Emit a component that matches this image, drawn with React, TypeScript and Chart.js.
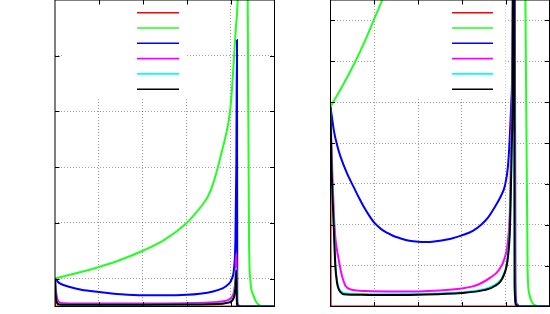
import React, { useEffect, useRef } from "react";
import { Chart, registerables } from "chart.js";

Chart.register(...registerables);

// ---------- data ----------
const SERIES_COLORS = ["#ff0000", "#22ff22", "#0000ff", "#ff00ff", "#00ffff", "#000000"];
const SERIES_NAMES = ["", "", "", "", "", ""];

const X_MIN = 0;
const X_MAX = 5;
const X_TICKS = [1, 2, 3, 4];

const LEFT_Y_MIN = 0;
const LEFT_Y_MAX = 5.5;
const LEFT_Y_TICKS = [0.5, 1.5, 2.5, 3.5, 4.5];

const RIGHT_Y_MIN = 0;
const RIGHT_Y_MAX = 7.5;
const RIGHT_Y_TICKS = [1, 2, 3, 4, 5, 6, 7];

// left panel
const L_RED_X = [0, 0.004, 5];
const L_RED_Y = [0.5, 0, 0];

const L_GREEN_X = [0, 0.5, 1, 1.5, 2, 2.5, 3, 3.2, 3.4, 3.5, 3.6, 3.71, 3.8, 3.9, 3.96, 4.0, 4.04, 4.08, 4.12, 4.16, 4.22, 4.3, 4.36, 4.39, 4.42, 4.45, 4.52, 4.61, 4.77, 5];
const L_GREEN_Y = [0.5, 0.6, 0.71, 0.84, 1.0, 1.2, 1.5, 1.67, 1.87, 2.0, 2.2, 2.5, 2.78, 3.1, 3.35, 3.6, 4.0, 4.5, 5.0, 5.5, 8, 12, 8, 5.5, 1.19, 0.47, 0.2, 0.05, 0, 0];

const L_BLUE_X = [0, 0.1, 0.34, 0.6, 1, 1.5, 2, 2.5, 3, 3.3, 3.6, 3.8, 3.95, 4.03, 4.08, 4.11, 4.13, 4.145, 4.152, 4.17, 4.3, 5];
const L_BLUE_Y = [0.5, 0.42, 0.35, 0.3, 0.26, 0.22, 0.2, 0.2, 0.21, 0.23, 0.27, 0.32, 0.4, 0.5, 0.7, 1.2, 2.5, 4.78, 0.1, 0.02, 0, 0];

const L_MAGENTA_X = [0, 0.02, 0.04, 0.07, 0.12, 0.2, 0.5, 1, 2, 3, 3.5, 3.8, 3.95, 4.03, 4.08, 4.11, 4.13, 4.145, 4.16, 4.3, 5];
const L_MAGENTA_Y = [0.5, 0.3, 0.18, 0.1, 0.07, 0.06, 0.055, 0.055, 0.055, 0.06, 0.07, 0.09, 0.12, 0.17, 0.28, 0.5, 0.95, 0.1, 0.02, 0, 0];

const L_CYAN_X = [0, 0.01, 0.025, 0.05, 0.1, 0.2, 1, 2, 3, 3.5, 3.8, 3.95, 4.03, 4.08, 4.11, 4.13, 4.145, 4.16, 4.3, 5];
const L_CYAN_Y = [0.5, 0.31, 0.15, 0.065, 0.04, 0.033, 0.033, 0.033, 0.038, 0.043, 0.053, 0.075, 0.11, 0.19, 0.37, 0.68, 0.05, 0.01, 0, 0];

const L_BLACK_X = [0, 0.01, 0.025, 0.05, 0.1, 0.2, 1, 2, 3, 3.5, 3.8, 3.95, 4.03, 4.08, 4.11, 4.13, 4.145, 4.16, 4.3, 5];
const L_BLACK_Y = [0.5, 0.3, 0.14, 0.06, 0.035, 0.03, 0.03, 0.03, 0.035, 0.04, 0.05, 0.07, 0.1, 0.18, 0.35, 0.65, 0.05, 0.01, 0, 0];

// right panel
const R_RED_X = [0, 0.004, 5];
const R_RED_Y = [4.88, 0, 0];

const R_GREEN_X = [0, 0.3, 0.57, 0.8, 0.985, 1.21, 1.5, 2.5, 3.5, 4.3, 4.45, 4.5, 4.54, 4.6, 4.7, 4.8, 5];
const R_GREEN_Y = [4.88, 5.45, 6.0, 6.53, 7.0, 7.57, 8.3, 12, 20, 12, 7.5, 0.9, 0.3, 0.1, 0.02, 0, 0];

const R_BLUE_X = [0, 0.04, 0.076, 0.15, 0.23, 0.38, 0.53, 0.65, 0.75, 0.88, 1.0, 1.15, 1.3, 1.45, 1.59, 1.8, 2.0, 2.2, 2.5, 2.75, 3.0, 3.25, 3.44, 3.6, 3.75, 3.88, 3.98, 4.05, 4.09, 4.13, 4.16, 4.185, 4.21, 4.22, 4.23, 4.26, 4.35, 5];
const R_BLUE_Y = [4.88, 4.58, 4.31, 3.95, 3.66, 3.25, 2.92, 2.66, 2.46, 2.23, 2.05, 1.9, 1.8, 1.72, 1.67, 1.61, 1.585, 1.58, 1.61, 1.66, 1.74, 1.85, 2.0, 2.18, 2.43, 2.68, 2.95, 3.41, 4.07, 5.05, 7.5, 30, 7.5, 1.0, 0.2, 0.05, 0, 0];

const R_MAGENTA_X = [0, 0.02, 0.05, 0.08, 0.11, 0.15, 0.19, 0.23, 0.27, 0.34, 0.49, 0.8, 1.5, 2, 2.5, 3, 3.2, 3.4, 3.64, 3.85, 3.98, 4.05, 4.1, 4.14, 4.165, 4.18, 4.2, 4.21, 4.24, 4.3, 5];
const R_MAGENTA_Y = [4.88, 4.0, 3.0, 2.2, 1.7, 1.37, 1.13, 0.9, 0.72, 0.51, 0.41, 0.38, 0.37, 0.37, 0.39, 0.44, 0.48, 0.55, 0.7, 0.9, 1.2, 1.6, 2.5, 5, 7.5, 30, 7.5, 0.5, 0.05, 0, 0];

const R_CYAN_X = [0, 0.02, 0.05, 0.08, 0.11, 0.15, 0.19, 0.23, 0.3, 0.5, 1, 2, 3, 3.5, 3.75, 3.95, 4.05, 4.1, 4.14, 4.165, 4.18, 4.195, 4.205, 4.23, 4.3, 5];
const R_CYAN_Y = [4.88, 3.7, 2.7, 1.9, 1.1, 0.62, 0.45, 0.38, 0.33, 0.31, 0.3, 0.31, 0.35, 0.42, 0.53, 0.78, 1.25, 2.1, 4.2, 7.5, 30, 7.5, 0.5, 0.05, 0, 0];

const R_BLACK_X = [0, 0.02, 0.05, 0.08, 0.11, 0.15, 0.19, 0.23, 0.3, 0.5, 1, 2, 3, 3.5, 3.75, 3.95, 4.05, 4.1, 4.14, 4.165, 4.18, 4.195, 4.205, 4.23, 4.3, 5];
const R_BLACK_Y = [4.88, 3.6, 2.6, 1.8, 1.0, 0.58, 0.42, 0.35, 0.3, 0.29, 0.28, 0.29, 0.33, 0.4, 0.5, 0.75, 1.2, 2.0, 4.0, 7.5, 30, 7.5, 0.5, 0.05, 0, 0];

const LEFT_SERIES = [
  [L_RED_X, L_RED_Y],
  [L_GREEN_X, L_GREEN_Y],
  [L_BLUE_X, L_BLUE_Y],
  [L_MAGENTA_X, L_MAGENTA_Y],
  [L_CYAN_X, L_CYAN_Y],
  [L_BLACK_X, L_BLACK_Y],
];
const RIGHT_SERIES = [
  [R_RED_X, R_RED_Y],
  [R_GREEN_X, R_GREEN_Y],
  [R_BLUE_X, R_BLUE_Y],
  [R_MAGENTA_X, R_MAGENTA_Y],
  [R_CYAN_X, R_CYAN_Y],
  [R_BLACK_X, R_BLACK_Y],
];

// ---------- plugin: gnuplot-like frame, inward ticks, opaque key ----------
const gnuplotFrame = {
  id: "gnuplotFrame",
  beforeDatasetsDraw(chart: any, _a: any, opts: any) {
    const { ctx, chartArea: a } = chart;
    const k = opts.key;
    ctx.save();
    ctx.fillStyle = "#ffffff";
    ctx.fillRect(a.left + k.boxLeft, a.top, k.boxRight - k.boxLeft, k.boxBottom);
    ctx.restore();
  },
  afterDatasetsDraw(chart: any, _a: any, opts: any) {
    const { ctx, chartArea: a } = chart;
    const k = opts.key;
    ctx.save();
    ctx.lineWidth = 1.6;
    chart.data.datasets.forEach((ds: any, i: number) => {
      const y = a.top + k.firstY + i * k.stepY;
      ctx.strokeStyle = ds.borderColor;
      ctx.beginPath();
      ctx.moveTo(a.left + k.sampleLeft, y);
      ctx.lineTo(a.left + k.sampleRight, y);
      ctx.stroke();
    });
    ctx.restore();
  },
  afterDraw(chart: any, _a: any, opts: any) {
    const { ctx, chartArea: a } = chart;
    const xs = chart.scales.x;
    const ys = chart.scales.y;
    const len = opts.tickLen;
    ctx.save();
    ctx.strokeStyle = "#000";
    ctx.lineWidth = 1;
    ctx.beginPath();
    xs.ticks.forEach((t: any) => {
      if (t.value <= xs.min || t.value >= xs.max) return;
      const px = Math.round(xs.getPixelForValue(t.value)) + 0.5;
      ctx.moveTo(px, a.bottom);
      ctx.lineTo(px, a.bottom - len);
      ctx.moveTo(px, a.top);
      ctx.lineTo(px, a.top + len);
    });
    ys.ticks.forEach((t: any) => {
      if (t.value <= ys.min || t.value >= ys.max) return;
      const py = Math.round(ys.getPixelForValue(t.value)) + 0.5;
      ctx.moveTo(a.left, py);
      ctx.lineTo(a.left + len, py);
      ctx.moveTo(a.right, py);
      ctx.lineTo(a.right - len, py);
    });
    ctx.stroke();
    ctx.strokeRect(a.left, a.top, a.right - a.left, a.bottom - a.top);
    ctx.restore();
  },
};

function buildDatasets(series: number[][][]) {
  return series.map(([xs, ys], i) => ({
    label: SERIES_NAMES[i],
    data: xs.map((x, j) => ({ x, y: ys[j] })),
    borderColor: SERIES_COLORS[i],
    backgroundColor: SERIES_COLORS[i],
    borderWidth: 2,
    pointRadius: 0,
    fill: false,
    cubicInterpolationMode: "monotone",
    order: series.length - i,
  }));
}

function makeConfig(series: number[][][], yMin: number, yMax: number, yTicks: number[], padLeft: number, key: any) {
  const gridOpts = {
    color: "rgba(0,0,0,0.38)",
    lineWidth: 1,
    drawTicks: false,
  };
  return {
    type: "line",
    data: { datasets: buildDatasets(series) },
    plugins: [gnuplotFrame],
    options: {
      animation: false,
      responsive: false,
      devicePixelRatio: 1,
      layout: { padding: { left: padLeft, right: 1.5, top: 0, bottom: 7.5 } },
      plugins: {
        legend: { display: false },
        tooltip: { enabled: false },
        gnuplotFrame: { tickLen: 4.5, key },
      },
      scales: {
        x: {
          type: "linear",
          min: X_MIN,
          max: X_MAX,
          grid: gridOpts,
          border: { display: false, dash: [1, 2] },
          ticks: { display: false },
          afterBuildTicks: (s: any) => {
            s.ticks = X_TICKS.map((v) => ({ value: v }));
          },
        },
        y: {
          type: "linear",
          min: yMin,
          max: yMax,
          grid: gridOpts,
          border: { display: false, dash: [1, 2] },
          ticks: { display: false },
          afterBuildTicks: (s: any) => {
            s.ticks = yTicks.map((v) => ({ value: v }));
          },
        },
      },
    },
  };
}

function Panel(props: { left: number; series: number[][][]; yMin: number; yMax: number; yTicks: number[]; padLeft: number; keyOpts: any }) {
  const ref = useRef<HTMLCanvasElement | null>(null);
  useEffect(() => {
    if (!ref.current) return;
    const chart = new Chart(ref.current, makeConfig(props.series, props.yMin, props.yMax, props.yTicks, props.padLeft, props.keyOpts) as any);
    return () => chart.destroy();
  }, []);
  return (
    <canvas
      ref={ref}
      width={276}
      height={314}
      style={{ position: "absolute", left: props.left, top: 0, width: 276, height: 314 }}
    />
  );
}

export default function App() {
  return (
    <div style={{ position: "absolute", left: 0, top: 0, width: 550, height: 314, background: "#fff", overflow: "hidden" }}>
      <Panel
        left={0}
        series={LEFT_SERIES}
        yMin={LEFT_Y_MIN}
        yMax={LEFT_Y_MAX}
        yTicks={LEFT_Y_TICKS}
        padLeft={55}
        keyOpts={{ boxLeft: 8, boxRight: 132, boxBottom: 97, sampleLeft: 82, sampleRight: 124, firstY: 12.7, stepY: 15.3 }}
      />
      <Panel
        left={275}
        series={RIGHT_SERIES}
        yMin={RIGHT_Y_MIN}
        yMax={RIGHT_Y_MAX}
        yTicks={RIGHT_Y_TICKS}
        padLeft={55.5}
        keyOpts={{ boxLeft: 45, boxRight: 175, boxBottom: 97, sampleLeft: 121.5, sampleRight: 162.5, firstY: 12.7, stepY: 15.3 }}
      />
    </div>
  );
}
